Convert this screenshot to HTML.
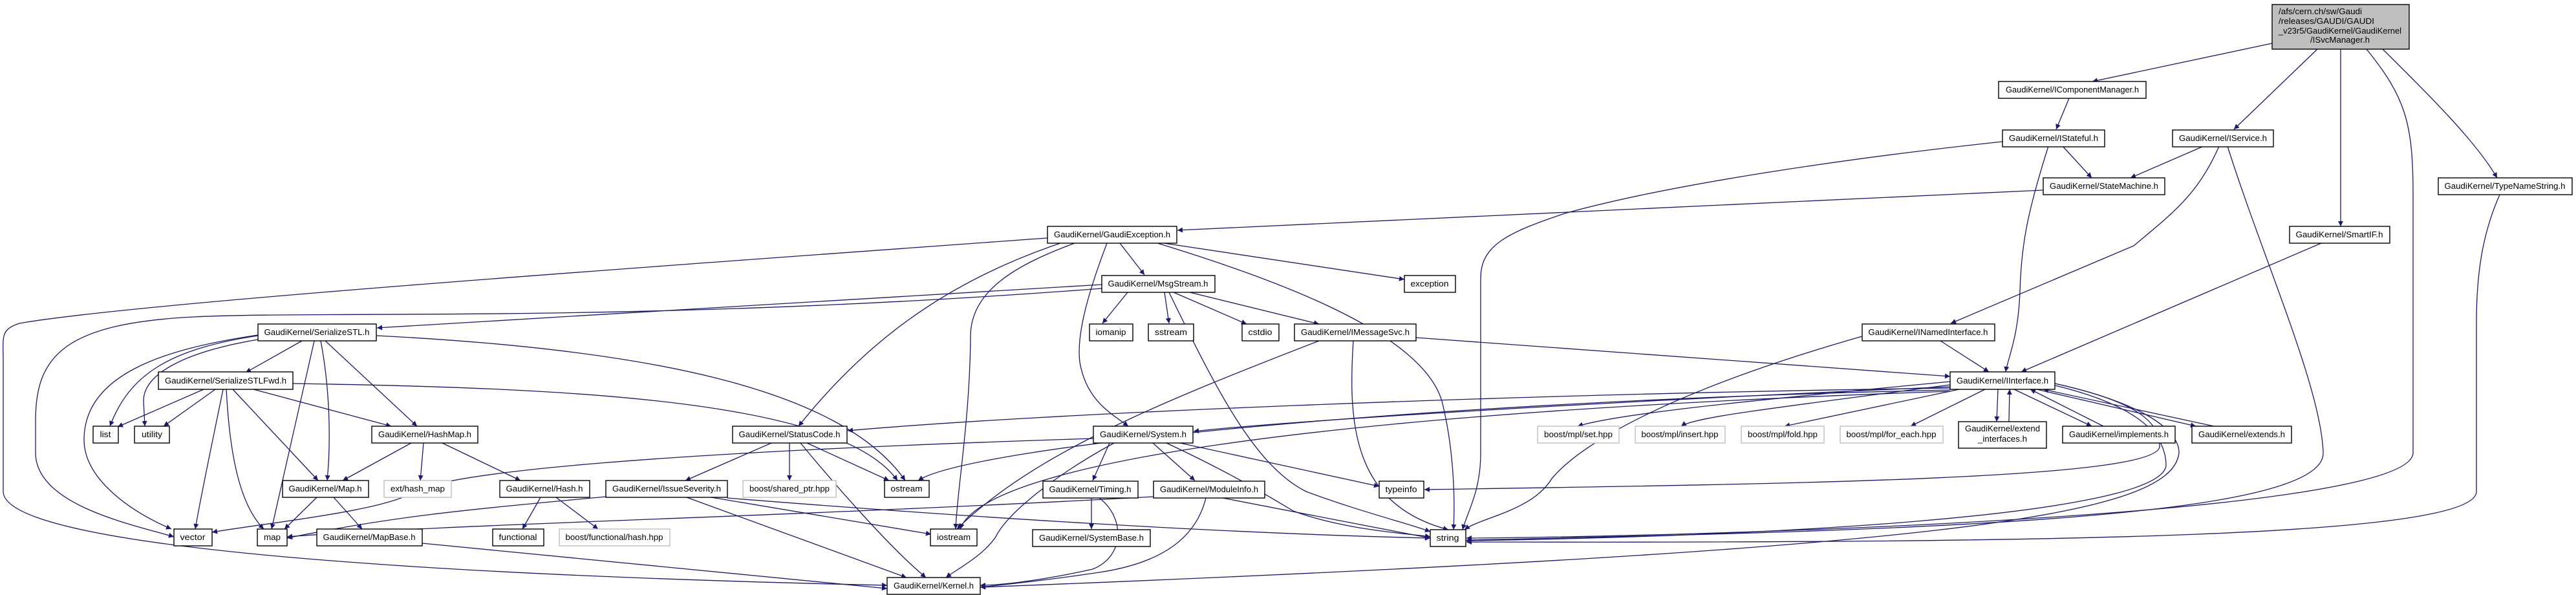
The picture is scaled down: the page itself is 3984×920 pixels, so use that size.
<!DOCTYPE html>
<html><head><meta charset="utf-8"><style>
html,body{margin:0;padding:0;background:#fff}
svg{display:block}
text{font-family:"Liberation Sans",sans-serif;font-size:12.5px;fill:#000}
.e{fill:none;stroke:#191970;stroke-width:1.3}
.n{fill:#fff;stroke:#000;stroke-width:1.4}
.g{fill:#fff;stroke:#bfbfbf;stroke-width:1.4}
</style></head><body>
<svg width="3984" height="920" viewBox="0 0 3984 920" xmlns="http://www.w3.org/2000/svg">
<defs><marker id="a" viewBox="0 0 10 10" refX="10" refY="5" markerWidth="10" markerHeight="8" markerUnits="userSpaceOnUse" orient="auto"><path d="M0,0 L10,5 L0,10 z" fill="#191970"/></marker></defs>
<g marker-end="url(#a)">
<path class="e" d="M3514,67 L3236,126"/>
<path class="e" d="M3584,76 L3455,200"/>
<path class="e" d="M3620,76 L3620,350"/>
<path class="e" d="M3660,76 C3720,150 3732,190 3732,300 L3732,700 C3732,800 2600,830 2268,832"/>
<path class="e" d="M3685,76 C3760,150 3830,220 3862,275"/>
<path class="e" d="M3200,152 L3180,200"/>
<path class="e" d="M3190,226 L3235,275"/>
<path class="e" d="M3168,226 C3135,330 3126,380 3124,450 C3122,520 3105,555 3102,575"/>
<path class="e" d="M3097,219 C2900,240 2600,280 2420,330 C2330,360 2290,380 2290,430 L2290,700 C2290,760 2270,790 2262,819"/>
<path class="e" d="M3160,294 L1821,356"/>
<path class="e" d="M3408,226 L3295,275"/>
<path class="e" d="M3432,226 C3400,300 3360,330 3300,380 L3017,500"/>
<path class="e" d="M3445,226 C3500,400 3590,600 3593,700 C3596,800 3000,820 2268,835"/>
<path class="e" d="M3590,376 L3126,575"/>
<path class="e" d="M3866,301 C3840,360 3830,420 3830,500 L3830,760 C3830,830 3200,840 2268,838"/>
<path class="e" d="M3001,527 L3076,575"/>
<path class="e" d="M2880,520 C2600,600 2450,680 2400,740 C2370,790 2290,800 2265,819"/>
<path class="e" d="M1732,376 L1770,425"/>
<path class="e" d="M1800,376 L2172,432"/>
<path class="e" d="M1790,376 C2000,440 2200,520 2230,620 C2250,700 2250,780 2248,819"/>
<path class="e" d="M1712,376 C1680,460 1665,520 1670,560 C1680,620 1720,640 1745,659"/>
<path class="e" d="M1640,376 C1450,440 1330,540 1235,659"/>
<path class="e" d="M1662,376 C1570,410 1501,450 1501,520 C1500,650 1480,760 1478,818"/>
<path class="e" d="M1620,368 C900,420 200,470 30,500 C0,510 5,520 5,560 L5,760 C5,850 700,890 1372,905"/>
<path class="e" d="M1744,452 L1705,500"/>
<path class="e" d="M1801,452 L1808,500"/>
<path class="e" d="M1815,452 L1928,501"/>
<path class="e" d="M1840,452 L2040,501"/>
<path class="e" d="M1808,452 C1880,600 1940,720 2020,760 C2100,790 2180,810 2212,822"/>
<path class="e" d="M1704,440 L583,507"/>
<path class="e" d="M1704,446 C1000,500 500,480 300,490 C100,500 55,550 55,650 L55,700 C55,780 200,810 269,830"/>
<path class="e" d="M467,527 L380,576"/>
<path class="e" d="M399,519 C260,540 200,580 170,659"/>
<path class="e" d="M399,525 C280,545 222,580 222,620 L224,659"/>
<path class="e" d="M399,518 C250,540 130,580 130,680 C130,740 200,790 265,818"/>
<path class="e" d="M486,527 L420,818"/>
<path class="e" d="M496,527 C510,600 512,680 506,743"/>
<path class="e" d="M503,527 L645,659"/>
<path class="e" d="M582,519 C1000,540 1300,600 1400,743"/>
<path class="e" d="M315,602 L182,660"/>
<path class="e" d="M333,602 L253,659"/>
<path class="e" d="M345,602 C325,700 310,770 302,818"/>
<path class="e" d="M350,602 C355,700 370,780 408,818"/>
<path class="e" d="M360,602 L492,743"/>
<path class="e" d="M392,602 L605,659"/>
<path class="e" d="M453,593 C900,600 1300,620 1388,743"/>
<path class="e" d="M636,685 L530,743"/>
<path class="e" d="M655,685 L650,743"/>
<path class="e" d="M684,685 L805,743"/>
<path class="e" d="M490,769 L440,818"/>
<path class="e" d="M516,769 L560,818"/>
<path class="e" d="M653,840 L1372,910"/>
<path class="e" d="M836,769 L808,818"/>
<path class="e" d="M860,769 L925,818"/>
<path class="e" d="M1193,685 L1060,743"/>
<path class="e" d="M1221,685 L1221,743"/>
<path class="e" d="M1248,685 L1375,743"/>
<path class="e" d="M1238,685 C1300,760 1380,850 1432,893"/>
<path class="e" d="M1062,769 L1402,893"/>
<path class="e" d="M1100,769 L1440,826"/>
<path class="e" d="M1125,770 C1500,800 1900,825 2212,832"/>
<path class="e" d="M937,768 C700,790 600,800 444,832"/>
<path class="e" d="M1716,685 L1690,743"/>
<path class="e" d="M1783,685 L1848,743"/>
<path class="e" d="M1825,685 L2133,752"/>
<path class="e" d="M1804,685 C1900,730 1950,760 2000,790 C2080,820 2180,825 2212,830"/>
<path class="e" d="M1723,685 C1640,730 1560,790 1540,830 C1520,860 1480,880 1463,893"/>
<path class="e" d="M1691,678 C1000,700 700,730 640,760 C600,790 400,810 328,823"/>
<path class="e" d="M1688,770 L1688,818"/>
<path class="e" d="M1700,770 C1740,800 1740,860 1690,880 C1600,900 1540,905 1516,905"/>
<path class="e" d="M1891,770 L2212,832"/>
<path class="e" d="M1865,770 C1850,830 1800,870 1700,885 C1600,900 1540,905 1516,908"/>
<path class="e" d="M1784,768 C1200,800 700,810 444,830"/>
<path class="e" d="M2190,522 L3016,582"/>
<path class="e" d="M2093,527 C2085,650 2090,780 2240,819"/>
<path class="e" d="M2040,527 C1800,620 1600,700 1480,818"/>
<path class="e" d="M3016,590 C2700,620 2500,640 2440,659"/>
<path class="e" d="M3016,595 C2750,630 2620,645 2600,659"/>
<path class="e" d="M3030,602 L2760,659"/>
<path class="e" d="M3070,602 L2955,659"/>
<path class="e" d="M3090,602 L3088,652"/>
<path class="e" d="M3107,652 L3108,602"/>
<path class="e" d="M3115,602 L3235,659"/>
<path class="e" d="M3253,659 L3140,602"/>
<path class="e" d="M3150,602 L3396,659"/>
<path class="e" d="M3424,659 L3160,602"/>
<path class="e" d="M3016,598 C2500,620 2000,650 1846,667"/>
<path class="e" d="M3016,600 C2300,610 1600,640 1311,666"/>
<path class="e" d="M3016,603 C2200,620 1500,690 1420,743"/>
<path class="e" d="M3016,605 C2000,640 1520,720 1485,818"/>
<path class="e" d="M3178,593 C3300,620 3370,660 3370,700 C3360,800 3000,850 1516,908"/>
<path class="e" d="M3178,593 C3300,620 3340,650 3340,690 C3340,740 2800,748 2203,757"/>
<path class="e" d="M3178,596 C3320,630 3350,680 3350,720 C3340,800 2700,830 2268,836"/>
</g>

<rect x="3514" y="7" width="212" height="69" fill="#bfbfbf" stroke="#000" stroke-width="1.4"/>
<text x="3524" y="22" textLength="129" lengthAdjust="spacingAndGlyphs">/afs/cern.ch/sw/Gaudi</text>
<text x="3524" y="37" textLength="148" lengthAdjust="spacingAndGlyphs">/releases/GAUDI/GAUDI</text>
<text x="3524" y="52" textLength="190" lengthAdjust="spacingAndGlyphs">_v23r5/GaudiKernel/GaudiKernel</text>
<text x="3573" y="66" textLength="92" lengthAdjust="spacingAndGlyphs">/ISvcManager.h</text>

<g text-anchor="middle">
<rect class="n" x="3091" y="126" width="228" height="26"/><text x="3205" y="143" textLength="206" lengthAdjust="spacingAndGlyphs">GaudiKernel/IComponentManager.h</text>
<rect class="n" x="3097" y="201" width="158" height="26"/><text x="3176" y="218" textLength="138" lengthAdjust="spacingAndGlyphs">GaudiKernel/IStateful.h</text>
<rect class="n" x="3360" y="201" width="156" height="26"/><text x="3438" y="218" textLength="136" lengthAdjust="spacingAndGlyphs">GaudiKernel/IService.h</text>
<rect class="n" x="3160" y="275" width="188" height="26"/><text x="3254" y="292" textLength="168" lengthAdjust="spacingAndGlyphs">GaudiKernel/StateMachine.h</text>
<rect class="n" x="3771" y="275" width="207" height="26"/><text x="3874" y="292" textLength="187" lengthAdjust="spacingAndGlyphs">GaudiKernel/TypeNameString.h</text>
<rect class="n" x="3541" y="350" width="155" height="26"/><text x="3618" y="367" textLength="135" lengthAdjust="spacingAndGlyphs">GaudiKernel/SmartIF.h</text>
<rect class="n" x="1620" y="350" width="200" height="26"/><text x="1720" y="367" textLength="180" lengthAdjust="spacingAndGlyphs">GaudiKernel/GaudiException.h</text>
<rect class="n" x="1704" y="426" width="175" height="26"/><text x="1791" y="443" textLength="155" lengthAdjust="spacingAndGlyphs">GaudiKernel/MsgStream.h</text>
<rect class="n" x="2172" y="426" width="79" height="26"/><text x="2211" y="443" textLength="59" lengthAdjust="spacingAndGlyphs">exception</text>
<rect class="n" x="1685" y="501" width="67" height="26"/><text x="1718" y="518" textLength="47" lengthAdjust="spacingAndGlyphs">iomanip</text>
<rect class="n" x="1776" y="501" width="70" height="26"/><text x="1811" y="518" textLength="50" lengthAdjust="spacingAndGlyphs">sstream</text>
<rect class="n" x="1921" y="501" width="57" height="26"/><text x="1949" y="518" textLength="37" lengthAdjust="spacingAndGlyphs">cstdio</text>
<rect class="n" x="2002" y="501" width="188" height="26"/><text x="2096" y="518" textLength="168" lengthAdjust="spacingAndGlyphs">GaudiKernel/IMessageSvc.h</text>
<rect class="n" x="2880" y="501" width="205" height="26"/><text x="2982" y="518" textLength="185" lengthAdjust="spacingAndGlyphs">GaudiKernel/INamedInterface.h</text>
<rect class="n" x="399" y="501" width="183" height="26"/><text x="490" y="518" textLength="163" lengthAdjust="spacingAndGlyphs">GaudiKernel/SerializeSTL.h</text>
<rect class="n" x="245" y="575" width="208" height="27"/><text x="349" y="593" textLength="188" lengthAdjust="spacingAndGlyphs">GaudiKernel/SerializeSTLFwd.h</text>
<rect class="n" x="3016" y="575" width="162" height="27"/><text x="3097" y="593" textLength="142" lengthAdjust="spacingAndGlyphs">GaudiKernel/IInterface.h</text>
<rect class="n" x="144" y="659" width="39" height="26"/><text x="163" y="676" textLength="17" lengthAdjust="spacingAndGlyphs">list</text>
<rect class="n" x="208" y="659" width="54" height="26"/><text x="235" y="676" textLength="32" lengthAdjust="spacingAndGlyphs">utility</text>
<rect class="n" x="575" y="659" width="164" height="26"/><text x="657" y="676" textLength="144" lengthAdjust="spacingAndGlyphs">GaudiKernel/HashMap.h</text>
<rect class="n" x="1133" y="659" width="177" height="26"/><text x="1221" y="676" textLength="157" lengthAdjust="spacingAndGlyphs">GaudiKernel/StatusCode.h</text>
<rect class="n" x="1691" y="659" width="154" height="26"/><text x="1768" y="676" textLength="134" lengthAdjust="spacingAndGlyphs">GaudiKernel/System.h</text>
<rect class="g" x="2378" y="659" width="126" height="26"/><text x="2441" y="676" textLength="106" lengthAdjust="spacingAndGlyphs">boost/mpl/set.hpp</text>
<rect class="g" x="2529" y="659" width="139" height="26"/><text x="2598" y="676" textLength="119" lengthAdjust="spacingAndGlyphs">boost/mpl/insert.hpp</text>
<rect class="g" x="2693" y="659" width="128" height="26"/><text x="2757" y="676" textLength="108" lengthAdjust="spacingAndGlyphs">boost/mpl/fold.hpp</text>
<rect class="g" x="2846" y="659" width="159" height="26"/><text x="2925" y="676" textLength="139" lengthAdjust="spacingAndGlyphs">boost/mpl/for_each.hpp</text>
<rect class="n" x="3029" y="652" width="136" height="41"/><text x="3097" y="667" textLength="116" lengthAdjust="spacingAndGlyphs">GaudiKernel/extend</text><text x="3097" y="683" textLength="76" lengthAdjust="spacingAndGlyphs">_interfaces.h</text>
<rect class="n" x="3190" y="659" width="174" height="26"/><text x="3277" y="676" textLength="154" lengthAdjust="spacingAndGlyphs">GaudiKernel/implements.h</text>
<rect class="n" x="3390" y="659" width="154" height="26"/><text x="3467" y="676" textLength="134" lengthAdjust="spacingAndGlyphs">GaudiKernel/extends.h</text>
<rect class="n" x="437" y="743" width="133" height="26"/><text x="503" y="760" textLength="113" lengthAdjust="spacingAndGlyphs">GaudiKernel/Map.h</text>
<rect class="g" x="594" y="743" width="104" height="26"/><text x="646" y="760" textLength="84" lengthAdjust="spacingAndGlyphs">ext/hash_map</text>
<rect class="n" x="773" y="743" width="139" height="26"/><text x="842" y="760" textLength="119" lengthAdjust="spacingAndGlyphs">GaudiKernel/Hash.h</text>
<rect class="n" x="937" y="743" width="188" height="26"/><text x="1031" y="760" textLength="168" lengthAdjust="spacingAndGlyphs">GaudiKernel/IssueSeverity.h</text>
<rect class="g" x="1149" y="743" width="144" height="26"/><text x="1221" y="760" textLength="124" lengthAdjust="spacingAndGlyphs">boost/shared_ptr.hpp</text>
<rect class="n" x="1368" y="743" width="69" height="26"/><text x="1402" y="760" textLength="49" lengthAdjust="spacingAndGlyphs">ostream</text>
<rect class="n" x="1613" y="744" width="147" height="26"/><text x="1686" y="761" textLength="127" lengthAdjust="spacingAndGlyphs">GaudiKernel/Timing.h</text>
<rect class="n" x="1784" y="744" width="172" height="26"/><text x="1870" y="761" textLength="152" lengthAdjust="spacingAndGlyphs">GaudiKernel/ModuleInfo.h</text>
<rect class="n" x="2133" y="744" width="69" height="26"/><text x="2167" y="761" textLength="49" lengthAdjust="spacingAndGlyphs">typeinfo</text>
<rect class="n" x="269" y="818" width="59" height="26"/><text x="298" y="835" textLength="39" lengthAdjust="spacingAndGlyphs">vector</text>
<rect class="n" x="398" y="818" width="46" height="26"/><text x="421" y="835" textLength="26" lengthAdjust="spacingAndGlyphs">map</text>
<rect class="n" x="490" y="818" width="163" height="26"/><text x="571" y="835" textLength="143" lengthAdjust="spacingAndGlyphs">GaudiKernel/MapBase.h</text>
<rect class="n" x="762" y="818" width="79" height="26"/><text x="801" y="835" textLength="59" lengthAdjust="spacingAndGlyphs">functional</text>
<rect class="g" x="865" y="818" width="171" height="26"/><text x="950" y="835" textLength="151" lengthAdjust="spacingAndGlyphs">boost/functional/hash.hpp</text>
<rect class="n" x="1439" y="818" width="72" height="26"/><text x="1475" y="835" textLength="52" lengthAdjust="spacingAndGlyphs">iostream</text>
<rect class="n" x="1597" y="819" width="182" height="26"/><text x="1688" y="836" textLength="162" lengthAdjust="spacingAndGlyphs">GaudiKernel/SystemBase.h</text>
<rect class="n" x="2212" y="819" width="55" height="26"/><text x="2239" y="836" textLength="35" lengthAdjust="spacingAndGlyphs">string</text>
<rect class="n" x="1372" y="893" width="144" height="26"/><text x="1444" y="910" textLength="124" lengthAdjust="spacingAndGlyphs">GaudiKernel/Kernel.h</text>
</g>
</svg>
</body></html>
